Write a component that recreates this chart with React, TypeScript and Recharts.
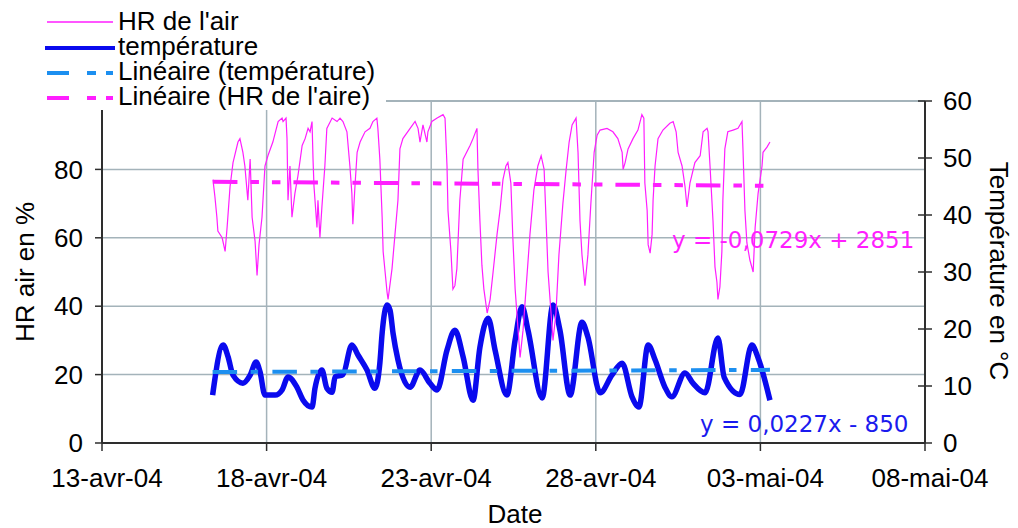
import { CartesianGrid, Line, LineChart, ReferenceLine, XAxis, YAxis } from 'recharts';

const FONT = "'Liberation Sans', Arial, sans-serif";
const EQ_FONT = "'DejaVu Sans', Verdana, sans-serif";
const MAGENTA = '#ff1eff';
const BLUE = '#0a0aee';
const LIGHT_BLUE = '#1c8ff0';
const GRID = '#a4b3ba';
const AXIS = '#2e2e2e';

// axe des dates : jours depuis le 13-avr-04
const dateTicks = [0, 5, 10, 15, 20, 25];
const dateLabels = ['13-avr-04', '18-avr-04', '23-avr-04', '28-avr-04', '03-mai-04', '08-mai-04'];
const hrTicks = [0, 20, 40, 60, 80];
const tempTicks = [0, 10, 20, 30, 40, 50, 60];

// [jour, HR %]
const hrReadings: [number, number][] = [
  [3.37, 77], [3.43, 72], [3.49, 66], [3.52, 62], [3.65, 60], [3.74, 56], [3.8, 63], [3.89, 75],
  [3.98, 82], [4.13, 88], [4.19, 89], [4.28, 85], [4.34, 81], [4.43, 71], [4.5, 83], [4.56, 66],
  [4.65, 59], [4.71, 49], [4.77, 58], [4.86, 66], [4.95, 81], [5.04, 84], [5.19, 88], [5.35, 94],
  [5.47, 95], [5.5, 94], [5.59, 95], [5.62, 89], [5.65, 71], [5.71, 81], [5.77, 66], [5.86, 73],
  [5.95, 78], [6.08, 87], [6.17, 89], [6.26, 92], [6.32, 91], [6.38, 94], [6.41, 83], [6.44, 75],
  [6.53, 63], [6.56, 71], [6.62, 60], [6.68, 69], [6.77, 81], [6.83, 92], [6.99, 95], [7.14, 94],
  [7.23, 95], [7.32, 94], [7.44, 91], [7.53, 81], [7.59, 73], [7.62, 64], [7.69, 76], [7.75, 85],
  [7.84, 88], [7.99, 91], [8.14, 92], [8.23, 94], [8.35, 95], [8.38, 92], [8.44, 83], [8.51, 66],
  [8.54, 56], [8.6, 50], [8.66, 44], [8.69, 42], [8.81, 51], [8.9, 61], [8.99, 71], [9.05, 86],
  [9.14, 89], [9.36, 92], [9.51, 94], [9.6, 92], [9.66, 88], [9.75, 93], [9.87, 88], [9.9, 91],
  [10.02, 94], [10.18, 95], [10.36, 96], [10.42, 95], [10.48, 81], [10.51, 68], [10.6, 56], [10.66, 45],
  [10.72, 46], [10.78, 51], [10.87, 71], [10.97, 83], [11.18, 87], [11.27, 89], [11.39, 92], [11.42, 80],
  [11.48, 65], [11.54, 52], [11.6, 45], [11.7, 38], [11.79, 42], [11.88, 50], [12.0, 61], [12.09, 68],
  [12.18, 77], [12.27, 81], [12.33, 82], [12.42, 76], [12.48, 60], [12.55, 45], [12.64, 33], [12.7, 25],
  [12.79, 33], [12.88, 45], [13.0, 61], [13.12, 74], [13.24, 81], [13.34, 84], [13.43, 80], [13.49, 65],
  [13.55, 50], [13.64, 38], [13.7, 30], [13.79, 38], [13.88, 55], [14.0, 70], [14.1, 80], [14.19, 88],
  [14.28, 93], [14.4, 95], [14.46, 85], [14.52, 65], [14.58, 55], [14.67, 46], [14.76, 55], [14.85, 70],
  [14.95, 85], [15.04, 90], [15.13, 91.5], [15.34, 92], [15.52, 91], [15.67, 89], [15.8, 85], [15.83, 80],
  [15.89, 82], [15.98, 86], [16.13, 89], [16.28, 91.5], [16.4, 96], [16.46, 95], [16.49, 76], [16.56, 68],
  [16.59, 58], [16.65, 55.5], [16.71, 61], [16.74, 71], [16.8, 81], [16.89, 89], [17.04, 91.5], [17.25, 93.5],
  [17.35, 94], [17.44, 91], [17.5, 85], [17.62, 81], [17.71, 75], [17.77, 69], [17.86, 76], [18.01, 82],
  [18.17, 84], [18.26, 91], [18.38, 92], [18.41, 91], [18.47, 81], [18.56, 65], [18.62, 51.5], [18.68, 47],
  [18.71, 42], [18.77, 45.6], [18.83, 56], [18.86, 71], [18.92, 86], [19.01, 91], [19.17, 91.5], [19.32, 92],
  [19.44, 94], [19.47, 86], [19.53, 68], [19.59, 58.5], [19.68, 53.5], [19.78, 50], [19.84, 63], [19.93, 73],
  [20.05, 81], [20.08, 85], [20.2, 86.5], [20.29, 88],
];

// [jour, température °C]
const tempReadings: [number, number][] = [
  [3.36, 8.4], [3.68, 17.2], [3.83, 15.1], [3.98, 11.9], [4.28, 10.5], [4.5, 11.9], [4.68, 14.2], [4.8, 12.5],
  [4.95, 8.4], [5.26, 8.4], [5.47, 9.3], [5.65, 11.6], [5.92, 9.8], [6.11, 7.5], [6.38, 6.3], [6.47, 9.6],
  [6.68, 12.8], [6.83, 9.6], [6.99, 8.9], [7.08, 11.6], [7.32, 12.0], [7.59, 17.2], [7.78, 15.4], [8.05, 12.8],
  [8.29, 9.6], [8.44, 14.0], [8.51, 19.3], [8.66, 24.2], [8.75, 23.3], [8.84, 19.3], [8.99, 14.6], [9.36, 9.8],
  [9.66, 12.8], [9.96, 10.5], [10.18, 9.3], [10.48, 16.3], [10.72, 19.8], [10.97, 15.1], [11.27, 7.5], [11.48, 16.8],
  [11.73, 21.9], [11.94, 16.3], [12.3, 8.4], [12.55, 18.1], [12.76, 23.9], [12.94, 19.8], [13.37, 7.9], [13.7, 24.2],
  [13.91, 19.8], [14.22, 8.4], [14.58, 21.2], [14.76, 18.6], [15.13, 8.8], [15.49, 11.9], [15.8, 14.0], [16.1, 8.1],
  [16.31, 6.3], [16.59, 17.2], [16.8, 14.6], [17.1, 9.8], [17.31, 8.1], [17.71, 12.3], [17.95, 10.5], [18.32, 8.8],
  [18.71, 18.4], [18.9, 11.5], [19.38, 8.5], [19.74, 17.2], [19.92, 15.1], [20.29, 7.5],
];

const hrTrend: [number, number][] = [[3.37, 76.4], [20.29, 75.2]];
const tempTrend: [number, number][] = [[3.36, 12.45], [20.29, 12.83]];

const toRows = (pts: [number, number][]) => pts.map(([t, v]) => ({ t, v }));

function RightTick(props: any) {
  const { x, y, payload } = props;
  return (
    <g>
      <line x1={x - 25} x2={x - 11} y1={y} y2={y} stroke={AXIS} strokeWidth={1.5} />
      <text x={x} y={y} dy="0.36em" fontSize={26} fontFamily={FONT} fill="#000">
        {payload.value}
      </text>
    </g>
  );
}

function Overlay() {
  const rows = [
    { label: "HR de l'air", y: 22, base: 30 },
    { label: 'température', y: 48, base: 55 },
    { label: 'Linéaire (température)', y: 73, base: 80 },
    { label: "Linéaire (HR de l'aire)", y: 98, base: 105 },
  ];
  const dashed = (y: number, color: string) => (
    <g stroke={color} strokeWidth={4}>
      <line x1={47} x2={69} y1={y} y2={y} />
      <line x1={87} x2={96} y1={y} y2={y} />
      <line x1={106} x2={113} y1={y} y2={y} />
    </g>
  );
  return (
    <svg width={1018} height={528} style={{ position: 'absolute', left: 0, top: 0, pointerEvents: 'none' }}>
      <defs>
        <clipPath id="clip-eq-hr">
          <rect x={600} y={200} width={319} height={60} />
        </clipPath>
        <clipPath id="clip-eq-t">
          <rect x={600} y={395} width={309} height={45} />
        </clipPath>
      </defs>
      <text x={672} y={248} fontSize={23} fontFamily={EQ_FONT} fill={MAGENTA} clipPath="url(#clip-eq-hr)">
        y = -0,0729x + 2851
      </text>
      <text x={700} y={432} fontSize={23} fontFamily={EQ_FONT} fill="#1a1aee" clipPath="url(#clip-eq-t)">
        y = 0,0227x - 850
      </text>

      <rect x={40} y={0} width={346} height={110} fill="#fff" />
      <line x1={47} x2={113} y1={rows[0].y} y2={rows[0].y} stroke={MAGENTA} strokeWidth={1.5} />
      <line x1={45} x2={115} y1={rows[1].y} y2={rows[1].y} stroke={BLUE} strokeWidth={4} />
      {dashed(rows[2].y, LIGHT_BLUE)}
      {dashed(rows[3].y, MAGENTA)}
      {rows.map((r) => (
        <text key={r.label} x={118} y={r.base} fontSize={26} fontFamily={FONT} fill="#000">
          {r.label}
        </text>
      ))}

      <text transform="translate(34,272) rotate(-90)" textAnchor="middle" fontSize={26} fontFamily={FONT} fill="#000">
        HR air en %
      </text>
      <text transform="translate(990,271) rotate(90)" textAnchor="middle" fontSize={26} fontFamily={FONT} fill="#000">
        Température en °C
      </text>
      <text x={515} y={523} textAnchor="middle" fontSize={26} fontFamily={FONT} fill="#000">
        Date
      </text>
    </svg>
  );
}

export default function App() {
  const hrRows = toRows(hrReadings);
  const tempRows = toRows(tempReadings);
  const hrTrendRows = toRows(hrTrend);
  const tempTrendRows = toRows(tempTrend);

  return (
    <div style={{ position: 'absolute', left: 0, top: 0, width: 1018, height: 528, background: '#fff', fontFamily: FONT }}>
      <LineChart width={1018} height={528} margin={{ top: 101, right: 0, bottom: 0, left: 0 }}>
        <CartesianGrid yAxisId="left" stroke={GRID} strokeWidth={1.5} />
        <XAxis
          type="number"
          dataKey="t"
          domain={[0, 25]}
          ticks={dateTicks}
          interval={0}
          tickFormatter={(v: number) => dateLabels[dateTicks.indexOf(v)]}
          height={85}
          tickSize={8}
          tickMargin={18}
          axisLine={{ stroke: AXIS, strokeWidth: 2 }}
          tickLine={{ stroke: AXIS, strokeWidth: 1.5 }}
          tick={{ fontSize: 26, fill: '#000', dx: 5, fontFamily: FONT }}
        />
        <YAxis
          yAxisId="left"
          domain={[0, 100]}
          ticks={hrTicks}
          interval={0}
          width={102}
          tickSize={7}
          tickMargin={12}
          axisLine={{ stroke: AXIS, strokeWidth: 2 }}
          tickLine={{ stroke: AXIS, strokeWidth: 1.5 }}
          tick={{ fontSize: 26, fill: '#000', fontFamily: FONT }}
        />
        <YAxis
          yAxisId="right"
          orientation="right"
          domain={[0, 60]}
          ticks={tempTicks}
          interval={0}
          width={93}
          tickSize={8}
          tickMargin={10}
          axisLine={{ stroke: AXIS, strokeWidth: 2 }}
          tickLine={false}
          tick={<RightTick />}
        />
        <ReferenceLine yAxisId="left" y={100} stroke={GRID} strokeWidth={2} />
        <Line yAxisId="right" data={tempRows} dataKey="v" type="monotone" stroke={BLUE} strokeWidth={5.5} strokeLinejoin="round" dot={false} isAnimationActive={false} />
        <Line yAxisId="left" data={hrRows} dataKey="v" type="linear" stroke={MAGENTA} strokeWidth={1.2} dot={false} isAnimationActive={false} />
        <Line yAxisId="right" data={tempTrendRows} dataKey="v" type="linear" stroke={LIGHT_BLUE} strokeWidth={4} strokeDasharray="24.5 13.5 7.5 14.3" dot={false} isAnimationActive={false} />
        <Line yAxisId="left" data={hrTrendRows} dataKey="v" type="linear" stroke={MAGENTA} strokeWidth={4} strokeDasharray="24.5 13 8.5 13 8.5 13" dot={false} isAnimationActive={false} />
      </LineChart>
      <Overlay />
    </div>
  );
}
